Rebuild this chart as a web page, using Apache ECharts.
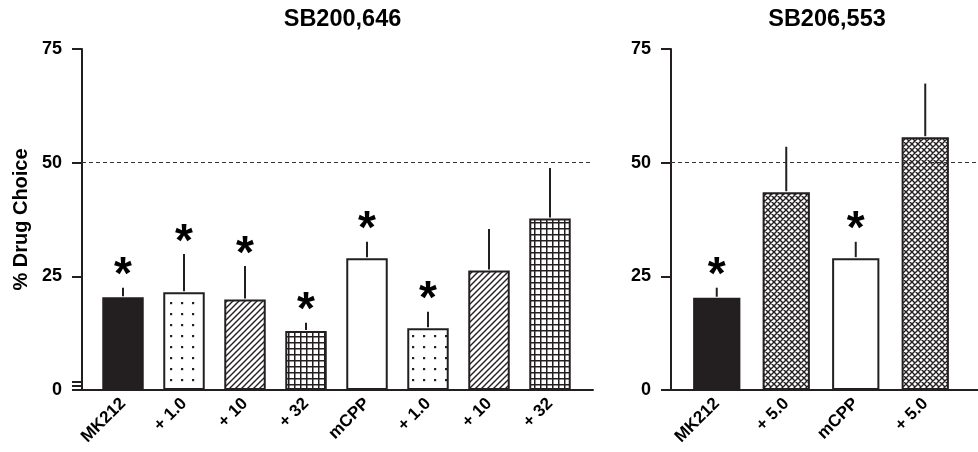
<!DOCTYPE html>
<html>
<head>
<meta charset="utf-8">
<script src="https://cdn.jsdelivr.net/npm/echarts@6/dist/echarts.min.js"></script>
<style>html,body{margin:0;padding:0;background:#fff}#c{width:978px;height:452px}</style>
</head>
<body>
<div id="c"></div>
<script>
// ---- data ----
const leftTitle = 'SB200,646';
const rightTitle = 'SB206,553';
const leftCategories = ['MK212', '+ 1.0', '+ 10', '+ 32', 'mCPP', '+ 1.0', '+ 10', '+ 32'];
const leftValues = [20.4, 21.5, 19.9, 13.0, 29.0, 13.6, 26.3, 37.7];
const leftErrorTops = [22.5, 29.9, 27.3, 14.8, 32.6, 17.2, 35.4, 48.8];
const leftSignificant = [true, true, true, true, true, true, false, false];
const leftFills = ['solid', 'dots', 'diag', 'grid', 'white', 'dots', 'diag', 'grid'];
const rightCategories = ['MK212', '+ 5.0', 'mCPP', '+ 5.0'];
const rightValues = [20.3, 43.5, 29.0, 55.6];
const rightErrorTops = [22.5, 53.5, 32.6, 67.4];
const rightSignificant = [true, false, true, false];
const rightFills = ['solid', 'cross', 'white', 'cross'];
const yTicks = [0, 25, 50, 75];
const breakTicks = [0.95, 1.85];
const referenceLine = 50;

// ---- styles ----
const INK = '#231f20';
const FONT = 'Liberation Sans, Arial, Helvetica, sans-serif';

function makePattern(kind) {
  const c = document.createElement('canvas');
  const s = kind === 'dots' ? 11 : 6;
  c.width = s; c.height = s;
  const g = c.getContext('2d');
  g.fillStyle = '#fff'; g.fillRect(0, 0, s, s);
  g.strokeStyle = INK; g.fillStyle = INK; g.lineWidth = 1.4;
  if (kind === 'dots') {
    g.fillRect(5, 5, 2.2, 2.2);
  } else if (kind === 'grid') {
    g.fillRect(0, 0, s, 1.5); g.fillRect(0, 0, 1.5, s);
  } else if (kind === 'diag' || kind === 'cross') {
    g.beginPath();
    g.moveTo(-1, s + 1); g.lineTo(s + 1, -1);
    g.moveTo(-1, 1); g.lineTo(1, -1);
    g.moveTo(s - 1, s + 1); g.lineTo(s + 1, s - 1);
    if (kind === 'cross') {
      g.moveTo(-1, -1); g.lineTo(s + 1, s + 1);
      g.moveTo(s - 1, -1); g.lineTo(s + 1, 1);
      g.moveTo(-1, s - 1); g.lineTo(1, s + 1);
    }
    g.stroke();
  }
  return { image: c, repeat: 'repeat' };
}
function fillFor(kind) {
  if (kind === 'solid') return INK;
  if (kind === 'white') return '#fff';
  return makePattern(kind);
}

const grids = [
  { left: 82, width: 511, top: 49, bottom: 62 },   // left frame
  { left: 92.5, width: 488, top: 49, bottom: 62 }, // left bars
  { left: 671, width: 307, top: 49, bottom: 62 },  // right frame
  { left: 682, width: 278, top: 49, bottom: 62 }   // right bars
];

function frameX(gi) {
  return { type: 'value', gridIndex: gi, min: 0, max: 1, axisLabel: { show: false }, axisTick: { show: false },
    splitLine: { show: false }, axisLine: { show: true, onZero: false, lineStyle: { color: INK, width: 2 } } };
}
function barX(gi, cats) {
  return { type: 'category', gridIndex: gi, data: cats, axisLine: { show: false }, axisTick: { show: false },
    axisLabel: { rotate: 45, margin: 11, fontFamily: FONT, fontWeight: 'bold', fontSize: 17, color: '#000', interval: 0 } };
}
function frameY(gi, withBreak, name) {
  return { type: 'value', gridIndex: gi, min: 0, max: 75, interval: 25,
    name: name, nameLocation: 'middle', nameGap: 50,
    nameTextStyle: { fontFamily: FONT, fontWeight: 'bold', fontSize: 20, color: '#000' },
    axisLine: { show: true, lineStyle: { color: INK, width: 2 } },
    axisTick: { show: true, length: 10, lineStyle: { color: INK, width: 2 },
      customValues: withBreak ? yTicks.concat(breakTicks) : yTicks },
    axisLabel: { customValues: yTicks, margin: 20, fontFamily: FONT, fontWeight: 'bold', fontSize: 18, color: '#000' },
    splitLine: { show: false } };
}
function hiddenY(gi) {
  return { type: 'value', gridIndex: gi, min: 0, max: 75, show: false, splitLine: { show: false } };
}

function barSeries(ai, values, fills) {
  return { type: 'bar', xAxisIndex: ai, yAxisIndex: ai, barWidth: '68%', silent: true,
    data: values.map((v, i) => ({ value: v, itemStyle: { color: fillFor(fills[i]), borderColor: INK, borderWidth: 2 } })) };
}
function errSeries(ai, values, tops, sig) {
  return { type: 'custom', xAxisIndex: ai, yAxisIndex: ai, silent: true, z: 5,
    data: values.map((v, i) => [i, v, tops[i], sig[i] ? 1 : 0]),
    renderItem: function (params, api) {
      const i = api.value(0);
      const p0 = api.coord([i, api.value(1)]);
      const p1 = api.coord([i, api.value(2)]);
      const children = [{ type: 'line', shape: { x1: p0[0], y1: p0[1] - 1, x2: p1[0], y2: p1[1] },
        style: { stroke: INK, lineWidth: 2 } }];
      if (api.value(3)) {
        children.push({ type: 'text', x: p1[0], y: p1[1] - 11,
          style: { text: '*', fontFamily: FONT, fontWeight: 'bold', fontSize: 46, fill: '#000',
            align: 'center', verticalAlign: 'middle' } });
      }
      return { type: 'group', children: children };
    } };
}
function refLine(ai) {
  return { type: 'line', xAxisIndex: ai, yAxisIndex: ai, data: [], silent: true,
    markLine: { silent: true, symbol: 'none', label: { show: false },
      lineStyle: { color: '#333', width: 1, type: [4, 3] }, data: [{ yAxis: referenceLine }] } };
}

const option = {
  animation: false,
  backgroundColor: '#fff',
  title: [
    { text: leftTitle, left: 337.5, top: 3, textAlign: 'center',
      textStyle: { fontFamily: FONT, fontWeight: 'bold', fontSize: 23.5, color: '#000' } },
    { text: rightTitle, left: 822, top: 3, textAlign: 'center',
      textStyle: { fontFamily: FONT, fontWeight: 'bold', fontSize: 23.5, color: '#000' } }
  ],
  grid: grids,
  xAxis: [frameX(0), barX(1, leftCategories), frameX(2), barX(3, rightCategories)],
  yAxis: [frameY(0, true, '% Drug Choice'), hiddenY(1), frameY(2, false, ''), hiddenY(3)],
  series: [
    refLine(0), refLine(2),
    barSeries(1, leftValues, leftFills), errSeries(1, leftValues, leftErrorTops, leftSignificant),
    barSeries(3, rightValues, rightFills), errSeries(3, rightValues, rightErrorTops, rightSignificant)
  ]
};
const chart = echarts.init(document.getElementById('c'), null, { renderer: 'canvas' });
chart.setOption(option);
</script>
</body>
</html>
